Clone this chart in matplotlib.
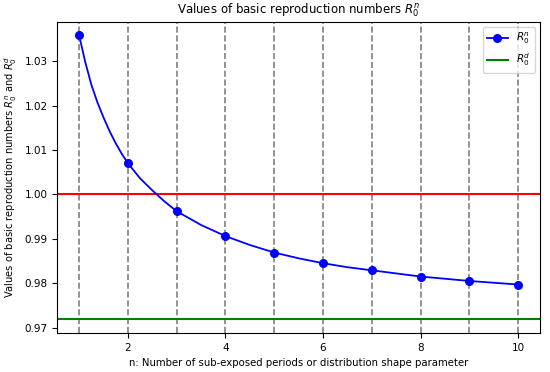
import matplotlib
matplotlib.use("Agg")
import matplotlib.pyplot as plt
from matplotlib.lines import Line2D

# R0^n at each integer n (markers)
n_points = [1, 2, 3, 4, 5, 6, 7, 8, 9, 10]
r0_points = [1.0358, 1.0070, 0.9962, 0.9906, 0.9869, 0.9845, 0.9829, 0.9815, 0.9805, 0.9797]

# smooth curve
n_curve = [1, 1.125, 1.25, 1.375, 1.5, 1.625, 1.75, 1.875, 2, 2.25, 2.5, 2.75, 3, 3.5, 4,
           4.5, 5, 5.5, 6, 6.5, 7, 7.5, 8, 8.5, 9, 9.5, 10]
r0_curve = [1.0358, 1.0298, 1.0247, 1.0207, 1.0173, 1.0142, 1.0115, 1.0091, 1.0070,
            1.0036, 1.0009, 0.9984, 0.9962, 0.9931, 0.9906, 0.9886, 0.9869, 0.9856,
            0.9845, 0.9836, 0.9829, 0.9822, 0.9815, 0.9810, 0.9805, 0.9801, 0.9797]

r0_d = 0.9719
threshold = 1.0

fig = plt.figure(figsize=(5.5, 3.72), dpi=100)
ax = fig.add_axes([0.104, 0.105, 0.878, 0.837])

for n in n_points:
    ax.axvline(n, color='gray', linestyle='--', linewidth=1.2)

ax.axhline(threshold, color='red', linewidth=1.5)
ax.axhline(r0_d, color='green', linewidth=1.5)
ax.plot(n_curve, r0_curve, color='blue', linewidth=1.3)
ax.plot(n_points, r0_points, 'o', color='blue', markersize=5.5)

ax.set_xlim(0.55, 10.45)
ax.set_ylim(0.9688, 1.0389)
ax.set_xticks([2, 4, 6, 8, 10])
ax.tick_params(labelsize=7.5)

ax.set_title('Values of basic reproduction numbers $R_0^n$', fontsize=8.5)
ax.set_xlabel('n: Number of sub-exposed periods or distribution shape parameter', fontsize=7.3)
ax.set_ylabel('Values of basic reproduction numbers $R_0^n$ and $R_0^d$', fontsize=7.1)

handles = [Line2D([], [], color='blue', marker='o', markersize=5.5, linewidth=1.3),
           Line2D([], [], color='green', linewidth=1.5)]
ax.legend(handles, ['$R_0^n$', '$R_0^d$'], loc='upper right', fontsize=7.5)

fig.savefig('out.png', dpi=100)
